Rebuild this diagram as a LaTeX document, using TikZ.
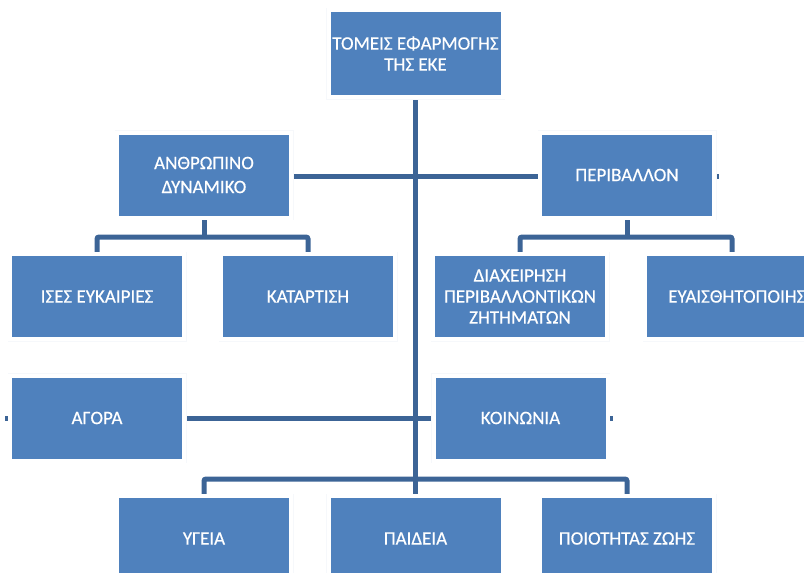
\documentclass[tikz,border=0pt]{standalone}
\usepackage{fontspec}
\setmainfont[FakeBold=0.4]{Carlito}
\usetikzlibrary{backgrounds,calc}
\definecolor{boxblue}{HTML}{4F81BD}
\definecolor{linkblue}{RGB}{60,100,150}
\definecolor{edgegray}{RGB}{246,248,251}
\tikzset{
  unit/.style={draw=white, line width=4pt, fill=boxblue,
    minimum width=174pt, minimum height=85pt, inner sep=0pt,
    text=white, font=\fontsize{19}{21}\selectfont, align=center,
    preaction={draw=edgegray, line width=5pt}},
  unitlabel/.style={inner sep=0pt, text=white, font=\fontsize{19}{21}\selectfont},
  link/.style={draw=linkblue, line width=5pt, rounded corners=2pt},
}
\begin{document}
\begin{tikzpicture}[x=1pt,y=-1pt]
\useasboundingbox (0,0) rectangle (804,573);
\clip (0,0) rectangle (804,573);

% boxes
\node[unit, minimum height=87pt] (top) at (415.5,53.5) {ΤΟΜΕΙΣ ΕΦΑΡΜΟΓΗΣ\\ΤΗΣ ΕΚΕ};
\node[unit, font=\fontsize{19}{24}\selectfont] (anthr) at (204,175) {ΑΝΘΡΩΠΙΝΟ\\ΔΥΝΑΜΙΚΟ};
\node[unit] (perib) at (627,175) {ΠΕΡΙΒΑΛΛΟΝ};
\node[unit] (ises) at (97,296.5) {ΙΣΕΣ ΕΥΚΑΙΡΙΕΣ};
\node[unit] (kat) at (308,296.5) {ΚΑΤΑΡΤΙΣΗ};
\node[unit] (diax) at (520,296.5) {ΔΙΑΧΕΙΡΗΣΗ\\ΠΕΡΙΒΑΛΛΟΝΤΙΚΩΝ\\ΖΗΤΗΜΑΤΩΝ};
\node[unit] (eua) at (732,296.5) {};
\node[unitlabel, anchor=west] (euatext) at ([xshift=25pt]eua.west) {ΕΥΑΙΣΘΗΤΟΠΟΙΗΣΗ};
\node[unit] (agora) at (97,418) {ΑΓΟΡΑ};
\node[unit] (koin) at (520.5,418) {ΚΟΙΝΩΝΙΑ};
\node[unit] (ygeia) at (204,538.5) {ΥΓΕΙΑ};
\node[unit] (paid) at (415.5,538.5) {ΠΑΙΔΕΙΑ};
\node[unit] (poiot) at (627,538.5) {ΠΟΙΟΤΗΤΑΣ ΖΩΗΣ};

% heights of the branch bars
\coordinate (barA) at (0,237);
\coordinate (barC) at (0,479);

% connectors, behind the boxes
\begin{scope}[on background layer]
  \draw[link] (top.center) -- (paid.center);
  \draw[link] ($(anthr.center)+(0,1.5)$) -- ($(perib.east)+(3,1.5)$);
  \draw[link] ([xshift=-3pt]agora.west) -- ([xshift=3pt]koin.east);
  \draw[link] (anthr.center) -- (anthr |- barA);
  \draw[link] (ises.center) -- (ises |- barA) -- (kat |- barA) -- (kat.center);
  \draw[link] (perib.center) -- (perib |- barA);
  \draw[link] (diax.center) -- (diax |- barA) -- (eua |- barA) -- (eua.center);
  \draw[link] (ygeia.center) -- (ygeia |- barC) -- (poiot |- barC) -- (poiot.center);
\end{scope}
\end{tikzpicture}
\end{document}
